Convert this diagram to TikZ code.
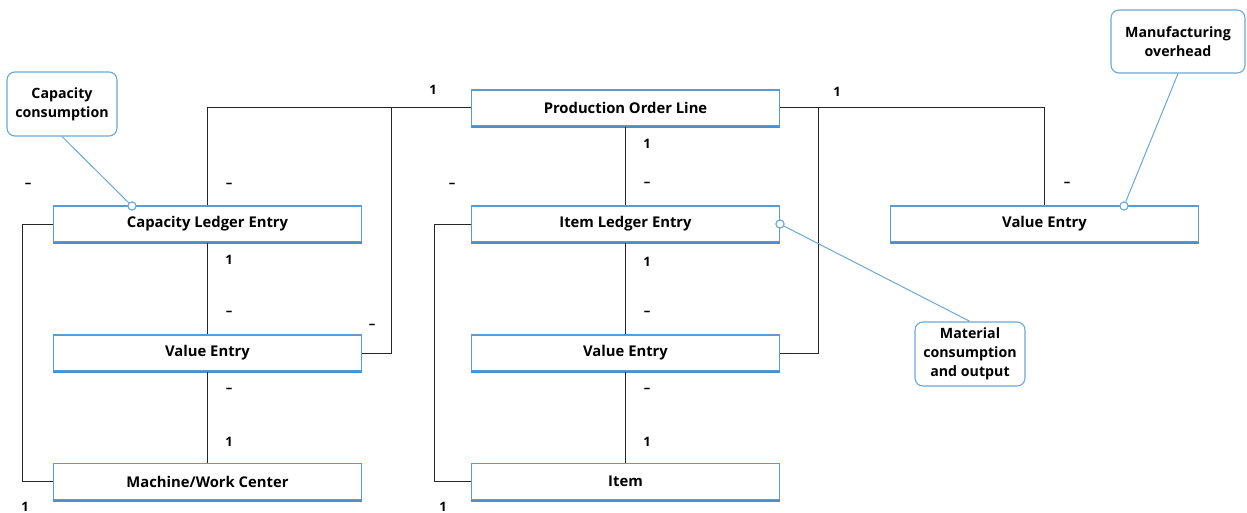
\documentclass[tikz,border=0pt]{standalone}
\usepackage{fontspec}
\setmainfont{Open Sans}
\begin{document}
\begin{tikzpicture}[x=1pt,y=-1pt,
  font=\fontsize{14.8}{17}\selectfont\bfseries,
  entity/.style={draw=boxblue,line width=1.3pt,fill=white,minimum width=308pt,minimum height=36pt,inner sep=0pt},
  note/.style={draw=noteblue,line width=1.1pt,rounded corners=8pt,fill=white,align=center,inner sep=0pt,font=\fontsize{14.2}{19}\selectfont\bfseries},
  link/.style={draw=black!85,line width=1pt},
  noteline/.style={draw=noteblue,line width=1pt},
  pin/.style={circle,draw=noteblue,line width=1pt,fill=white,minimum size=8pt,inner sep=0pt},
  mult/.style={inner sep=0pt,font=\fontsize{13}{15}\selectfont\bfseries}]
\definecolor{boxblue}{HTML}{5B9BD5}
\definecolor{shadowblue}{HTML}{4A8FCF}
\definecolor{noteblue}{HTML}{6AA7DA}
\useasboundingbox (0,0) rectangle (1247,513);

% entity boxes
\node[entity] (pol) at (625.5,108) {Production Order Line};
\node[entity] (cle) at (207.5,224) {Capacity Ledger Entry};
\node[entity] (ile) at (625.5,224) {Item Ledger Entry};
\node[entity] (ver) at (1044.5,224) {Value Entry};
\node[entity] (vel) at (207.5,353) {Value Entry};
\node[entity] (vem) at (625.5,353) {Value Entry};
\node[entity] (mwc) at (207.5,481.5) {Machine/Work Center};
\node[entity] (itm) at (625.5,481.5) {Item};
\foreach \n in {pol,cle,ile,ver,vel,vem,mwc,itm}
  \draw[shadowblue,line width=2.2pt] ([yshift=-0.6pt]\n.south west) -- ([yshift=-0.6pt]\n.south east);

% corner coordinates for connectors
\coordinate (c1) at (22,224);
\coordinate (c2) at (22,481.5);
\coordinate (c3) at (434,224);
\coordinate (c4) at (434,481.5);
\coordinate (c5) at (cle.north |- pol.west);
\coordinate (c6) at (391,108);
\coordinate (c7) at (391,353);
\coordinate (c8) at (818,108);
\coordinate (c9) at (818,353);
\coordinate (c10) at (1044.5,108);

% connectors
\draw[link] (cle.west) -- (c1) -- (c2) -- (mwc.west);
\draw[link] (ile.west) -- (c3) -- (c4) -- (itm.west);
\draw[link] (cle.north) -- (c5) -- (pol.west);
\draw[link] (c6) -- (c7) -- (vel.east);
\draw[link] (pol.east) -- (c10) -- (ver.north);
\draw[link] (c8) -- (c9) -- (vem.east);
\draw[link] (cle.south) -- (vel.north);
\draw[link] (vel.south) -- (mwc.north);
\draw[link] (pol.south) -- (ile.north);
\draw[link] (ile.south) -- (vem.north);
\draw[link] (vem.south) -- (itm.north);

% multiplicities
\node[mult] (m1) at (28,185) {–};
\node[mult] (m2) at (25,507) {1};
\node[mult] (m3) at (229,185) {–};
\node[mult] (m4) at (433,90) {1};
\node[mult] (m5) at (372,326) {–};
\node[mult] (m6) at (229,260) {1};
\node[mult] (m7) at (229,313) {–};
\node[mult] (m8) at (229,390) {–};
\node[mult] (m9) at (229,442) {1};
\node[mult] (m10) at (452,185) {–};
\node[mult] (m11) at (443,507) {1};
\node[mult] (m12) at (647,144) {1};
\node[mult] (m13) at (647,184) {–};
\node[mult] (m14) at (647,262) {1};
\node[mult] (m15) at (647,313) {–};
\node[mult] (m16) at (647,390) {–};
\node[mult] (m17) at (647,442) {1};
\node[mult] (m18) at (837,92) {1};
\node[mult] (m19) at (1067,184) {–};

% notes
\node[note,minimum width=110pt,minimum height=64pt] (n1) at (62,104) {Capacity\\consumption};
\node[note,minimum width=134pt,minimum height=63pt] (n2) at (1178,41.5) {Manufacturing\\overhead};
\node[note,minimum width=110pt,minimum height=64pt] (n3) at (970,354) {Material\\consumption\\and output};
\node[pin] (p1) at (132,206) {};
\node[pin] (p2) at (1124,206) {};
\node[pin] (p3) at (780,224) {};
\draw[noteline] (n1.south) -- (p1);
\draw[noteline] (n2.south) -- (p2);
\draw[noteline] (n3.north) -- (p3);
\node[pin] at (p1) {};
\node[pin] at (p2) {};
\node[pin] at (p3) {};
\end{tikzpicture}
\end{document}
